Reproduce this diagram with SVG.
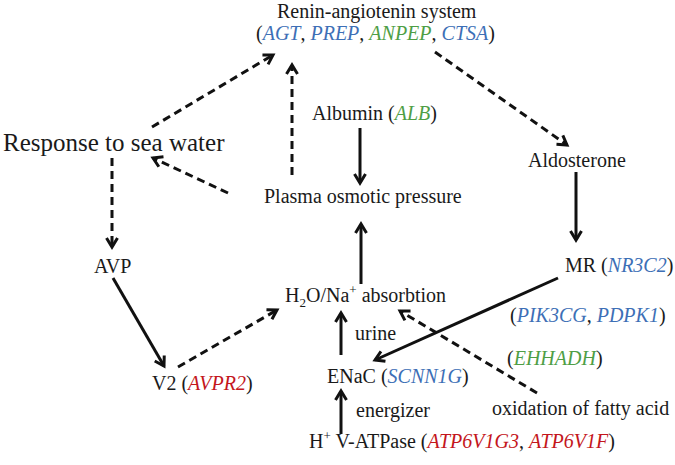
<svg xmlns="http://www.w3.org/2000/svg" width="675" height="465" viewBox="0 0 675 465">
<style>
text{font-family:"Liberation Serif","Times New Roman",serif;font-size:20px;fill:#1a1a1a}
.b{fill:#3d6fb6;font-style:italic}
.g{fill:#4e9e45;font-style:italic}
.r{fill:#c4161c;font-style:italic}
.s{font-size:13px}
.ln{stroke:#111;stroke-width:3;fill:none;marker-end:url(#ah)}
.d{stroke-dasharray:8 5}
</style>
<defs>
<marker id="ah" markerUnits="userSpaceOnUse" markerWidth="16" markerHeight="16" viewBox="0 0 16 16" refX="12" refY="8" orient="auto">
<path d="M3,2.5 L12,8 L3,13.5" fill="none" stroke="#111" stroke-width="3" stroke-dasharray="none"/>
</marker>
</defs>
<rect width="675" height="465" fill="#fff"/>
<g id="connectors">
<path class="ln d" d="M152,127 L273,55"/>
<path class="ln d" d="M292,175 L292,65"/>
<path class="ln d" d="M228,193 L153,158"/>
<path class="ln d" d="M112,158 L112,247"/>
<path class="ln d" d="M435,52 L567,145"/>
<path class="ln" d="M360,128 L360,183"/>
<path class="ln" d="M576,172 L576,240"/>
<path class="ln" d="M361,284 L361,224"/>
<path class="ln" d="M113,278 L164,366"/>
<path class="ln d" d="M178,367 L277,310"/>
<path class="ln" d="M341,355 L341,313"/>
<path class="ln" d="M341,434 L341,391"/>
<path class="ln" d="M558,278 L375,360"/>
<path class="ln d" d="M537,393 L400,311"/>
</g>
<g id="ras">
<text x="277" y="18">Renin-angiotenin system</text>
<text x="256" y="40">(<tspan class="b">AGT</tspan>, <tspan class="b">PREP</tspan>, <tspan class="g">ANPEP</tspan>, <tspan class="b">CTSA</tspan>)</text>
</g>
<g id="response"><text x="3" y="151" style="font-size:25px">Response to sea water</text></g>
<g id="albumin"><text x="312" y="120">Albumin (<tspan class="g">ALB</tspan>)</text></g>
<g id="plasma"><text x="264" y="203">Plasma osmotic pressure</text></g>
<g id="aldosterone"><text x="528" y="167">Aldosterone</text></g>
<g id="avp"><text x="94" y="273">AVP</text></g>
<g id="absorption"><text x="285" y="302">H<tspan class="s" dy="5">2</tspan><tspan dy="-5">O/Na</tspan><tspan class="s" dy="-8">+</tspan><tspan dy="8"> absorbtion</tspan></text></g>
<g id="urine"><text x="355" y="340">urine</text></g>
<g id="enac"><text x="327" y="383">ENaC (<tspan class="b">SCNN1G</tspan>)</text></g>
<g id="energizer"><text x="356" y="417">energizer</text></g>
<g id="vatpase"><text x="309" y="448">H<tspan class="s" dy="-8">+</tspan><tspan dy="8"> V-ATPase (</tspan><tspan class="r">ATP6V1G3</tspan>, <tspan class="r">ATP6V1F</tspan>)</text></g>
<g id="v2"><text x="152" y="390">V2 (<tspan class="r">AVPR2</tspan>)</text></g>
<g id="mr"><text x="565" y="272">MR (<tspan class="b">NR3C2</tspan>)</text></g>
<g id="pik"><text x="510" y="322">(<tspan class="b">PIK3CG</tspan>, <tspan class="b">PDPK1</tspan>)</text></g>
<g id="ehhadh"><text x="507" y="365">(<tspan class="g">EHHADH</tspan>)</text></g>
<g id="oxidation"><text x="492" y="415">oxidation of fatty acid</text></g>
</svg>
